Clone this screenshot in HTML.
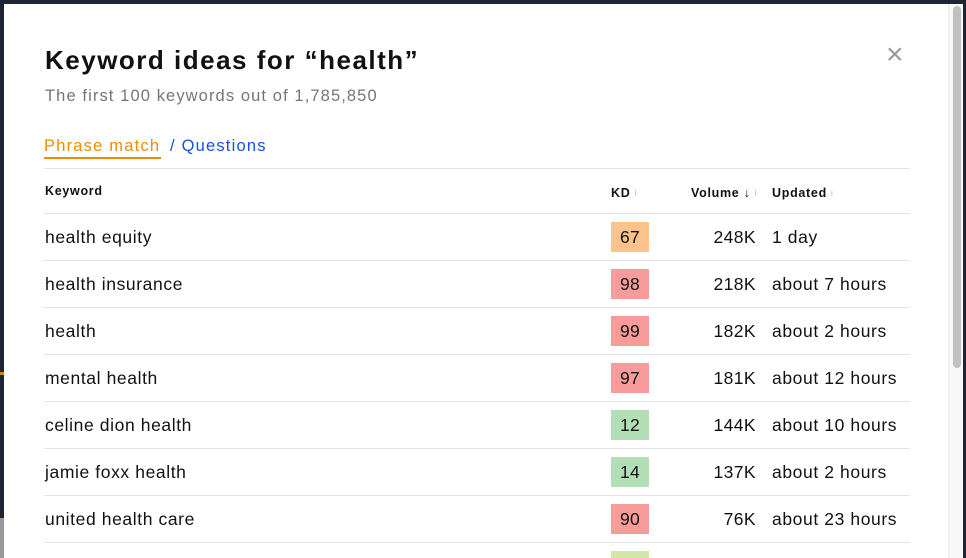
<!DOCTYPE html>
<html><head><meta charset="utf-8"><style>
*{margin:0;padding:0;box-sizing:border-box}
html,body{width:966px;height:558px;overflow:hidden}
body{background:#1f2433;position:relative;font-family:"Liberation Sans",Arial,sans-serif;color:#111}
.modal{position:absolute;left:4px;top:4px;width:959px;height:554px;background:#fff}
.a{position:absolute;white-space:nowrap}
.sep{position:absolute;left:44px;width:866px;height:1px;background:#e4e4e4}
.kw{position:absolute;left:45px;font-size:17.5px;line-height:20px;letter-spacing:0.6px}
.kd{position:absolute;left:611px;width:38px;height:30px;font-size:17.5px;line-height:30px;text-align:center;letter-spacing:0.3px}
.vol{position:absolute;right:210px;font-size:17.5px;line-height:20px;text-align:right;letter-spacing:0.4px}
.up{position:absolute;left:772px;font-size:17.5px;line-height:20px;letter-spacing:0.6px}
.h{position:absolute;font-size:12.5px;font-weight:bold;line-height:14px;letter-spacing:0.7px}
.i{color:#bbb;font-size:9px;font-weight:normal;vertical-align:top;margin-left:4px}
</style></head><body>
<div style="position:absolute;left:0;top:518px;width:4px;height:40px;background:#9a9a9a"></div>
<div style="position:absolute;left:0;top:372px;width:4px;height:3px;background:#d08a1a"></div>
<div class="modal"></div>
<div class="a" style="left:45px;top:44px;font-size:26px;font-weight:bold;line-height:32px;letter-spacing:1.5px">Keyword ideas for “health”</div>
<div class="a" style="left:45px;top:86px;font-size:16.5px;color:#767676;line-height:20px;letter-spacing:1.1px">The first 100 keywords out of 1,785,850</div>
<div class="a" style="left:886px;top:38px;font-size:30px;color:#999;line-height:34px">×</div>
<div class="a" style="left:44px;top:136px;font-size:16.5px;color:#f28b00;line-height:20px;letter-spacing:1.2px">Phrase match</div>
<div style="position:absolute;left:44px;top:157px;width:117px;height:2px;background:#f28b00"></div>
<div class="a" style="left:170px;top:136px;font-size:16.5px;color:#1452e0;line-height:20px;letter-spacing:1.2px">/ Questions</div>
<div class="sep" style="top:168px"></div>
<div class="h" style="left:45px;top:184px">Keyword</div>
<div class="h" style="left:611px;top:186px">KD<span class="i">i</span></div>
<div class="h" style="left:691px;top:186px">Volume ↓<span class="i">i</span></div>
<div class="h" style="left:772px;top:186px">Updated<span class="i">i</span></div>
<div class="sep" style="top:213px"></div>

<div class="kw" style="top:227px">health equity</div><div class="kd" style="top:222px;background:#fcc48a">67</div><div class="vol" style="top:227px">248K</div><div class="up" style="top:227px">1 day</div>
<div class="sep" style="top:260px"></div>
<div class="kw" style="top:274px">health insurance</div><div class="kd" style="top:269px;background:#f89b9b">98</div><div class="vol" style="top:274px">218K</div><div class="up" style="top:274px">about 7 hours</div>
<div class="sep" style="top:307px"></div>
<div class="kw" style="top:321px">health</div><div class="kd" style="top:316px;background:#f89b9b">99</div><div class="vol" style="top:321px">182K</div><div class="up" style="top:321px">about 2 hours</div>
<div class="sep" style="top:354px"></div>
<div class="kw" style="top:368px">mental health</div><div class="kd" style="top:363px;background:#f89b9b">97</div><div class="vol" style="top:368px">181K</div><div class="up" style="top:368px">about 12 hours</div>
<div class="sep" style="top:401px"></div>
<div class="kw" style="top:415px">celine dion health</div><div class="kd" style="top:410px;background:#b2dfb6">12</div><div class="vol" style="top:415px">144K</div><div class="up" style="top:415px">about 10 hours</div>
<div class="sep" style="top:448px"></div>
<div class="kw" style="top:462px">jamie foxx health</div><div class="kd" style="top:457px;background:#b2dfb6">14</div><div class="vol" style="top:462px">137K</div><div class="up" style="top:462px">about 2 hours</div>
<div class="sep" style="top:495px"></div>
<div class="kw" style="top:509px">united health care</div><div class="kd" style="top:504px;background:#f89b9b">90</div><div class="vol" style="top:509px">76K</div><div class="up" style="top:509px">about 23 hours</div>
<div class="sep" style="top:542px"></div>
<div class="kd" style="top:551px;height:7px;background:#d3e8a8"></div>

<div style="position:absolute;left:948px;top:4px;width:15px;height:554px;background:#f8f8f8;border-left:1px solid #e8e8e8"></div>
<div style="position:absolute;left:953px;top:6px;width:8px;height:362px;background:#c1c1c1;border-radius:4px"></div>
</body></html>
